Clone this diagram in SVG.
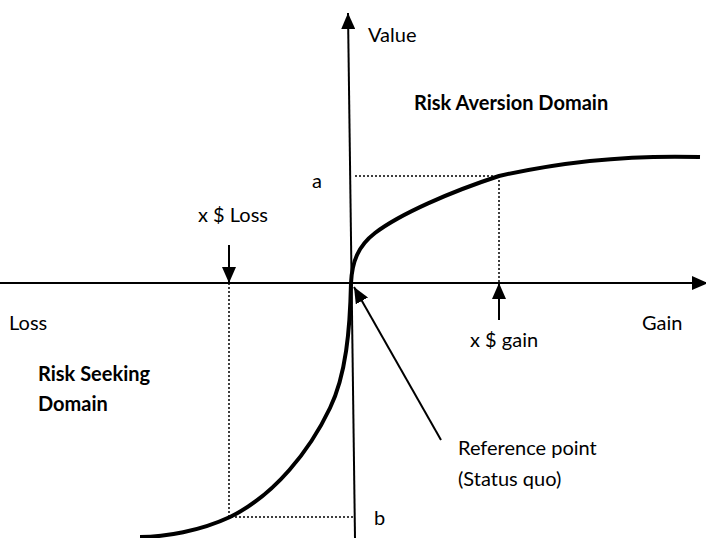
<svg xmlns="http://www.w3.org/2000/svg" width="706" height="538" viewBox="0 0 706 538">
<style>
text{font-family:"Lato","Open Sans","Liberation Sans",sans-serif;font-size:20px;fill:#000}
.b{font-weight:bold}
.ax{stroke:#000;stroke-width:2;fill:none}
.dot{stroke:#000;stroke-width:1.5;stroke-dasharray:2,2;fill:none}
.cur{stroke:#000;stroke-width:4;fill:none}
</style>
<defs>
<marker id="ah" viewBox="0 0 16 14" refX="16" refY="7" markerWidth="16" markerHeight="14" markerUnits="userSpaceOnUse" orient="auto">
<path d="M0,0L16,7L0,14Z" fill="#000"/>
</marker>
</defs>
<g id="connectors">
<line class="ax" x1="355" y1="538" x2="348" y2="13" marker-end="url(#ah)"/>
<line class="ax" x1="0" y1="283" x2="708" y2="283" marker-end="url(#ah)"/>
<path class="dot" d="M355,176H499V283"/>
<path class="dot" d="M229,283V517H354"/>
<line class="ax" x1="229" y1="245" x2="229" y2="283" marker-end="url(#ah)"/>
<line class="ax" x1="499" y1="320" x2="499" y2="283" marker-end="url(#ah)"/>
<line class="ax" x1="441" y1="440" x2="354" y2="287" marker-end="url(#ah)"/>
</g>
<g id="curve">
<path class="cur" d="M351,283 C352,262 358,246 375,233 C400,214 450,192 499,176 C560,162 630,155 700,157"/>
<path class="cur" d="M351,283 C350,330 346,375 330,408 C310,450 275,495 230,517 C200,531 165,537 140,537"/>
</g>
<g id="labels">
<text x="368" y="42">Value</text>
<text class="b" x="414" y="110">Risk Aversion Domain</text>
<text x="312" y="188">a</text>
<text x="198" y="222">x $ Loss</text>
<text x="9" y="330">Loss</text>
<text x="642" y="330">Gain</text>
<text x="470" y="347">x $ gain</text>
<text class="b" x="38" y="381">Risk Seeking</text>
<text class="b" x="38" y="411">Domain</text>
<text x="458" y="455">Reference point</text>
<text x="458" y="486">(Status quo)</text>
<text x="374" y="525">b</text>
</g>
</svg>
